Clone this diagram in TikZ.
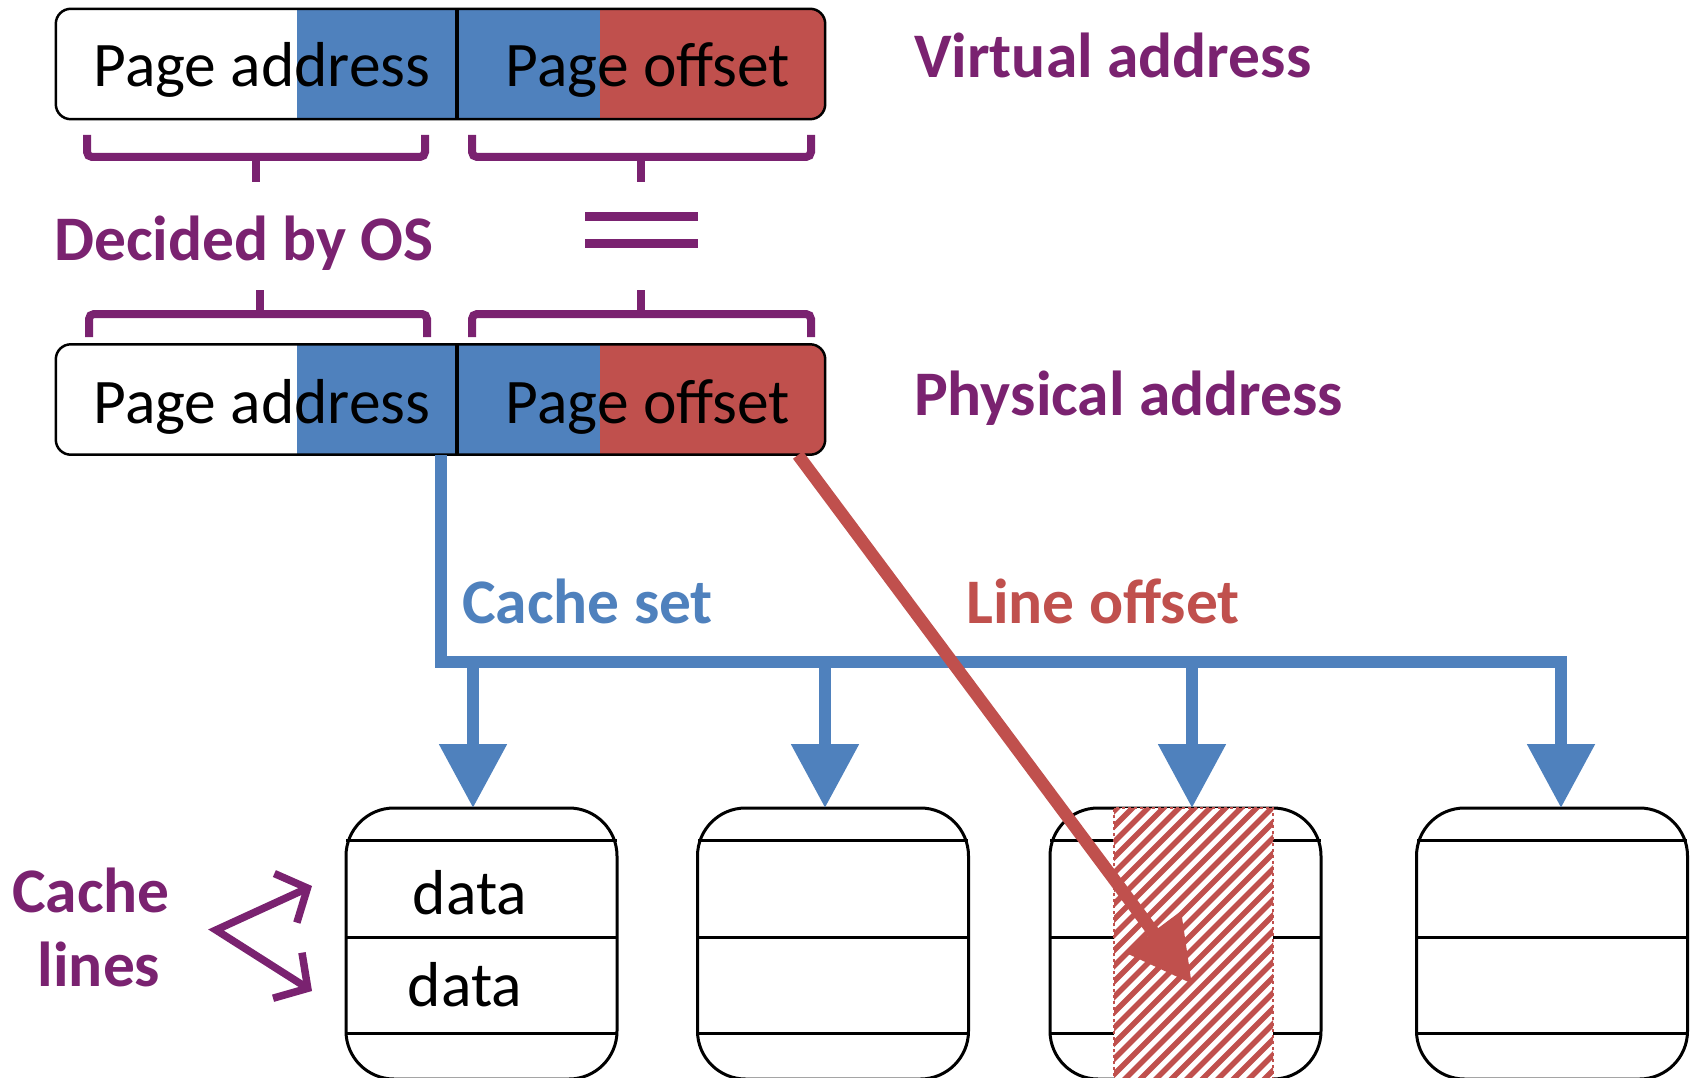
\documentclass[tikz,border=0pt]{standalone}
\usepackage{fontspec}
\setmainfont{Carlito}
\usetikzlibrary{arrows.meta}
\definecolor{blueC}{HTML}{4F81BD}
\definecolor{redC}{HTML}{C0504D}
\definecolor{purpC}{HTML}{7A2270}
\begin{document}
\begin{tikzpicture}[x=1pt,y=-1pt,
  txt/.style={font=\fontsize{63.5}{76}\selectfont, inner sep=0pt},
  lbl/.style={font=\fontsize{63.5}{76}\selectfont\bfseries, inner sep=0pt},
  addrshape/.style={minimum width=769pt, minimum height=110pt, inner sep=0pt},
  addrline/.style={draw=black, line width=2.5pt, rounded corners=15pt},
  cachebox/.style={draw=black, line width=3pt, rounded corners=48pt, minimum width=271pt, minimum height=271pt, inner sep=0pt},
  cline/.style={draw=black, line width=3pt},
  brace/.style={draw=purpC, line width=8pt, rounded corners=5pt},
  bluel/.style={draw=blueC, line width=12pt, line join=miter},
  bluetip/.style={-{Triangle[width=65pt,length=64pt]}},
  redl/.style={draw=redC, line width=12.5pt, -{Triangle[width=66pt,length=65pt]}},
  purparrow/.style={draw=purpC, line width=7.5pt, line join=miter, {Straight Barb[length=24pt,width=54pt]}-{Straight Barb[length=24pt,width=54pt]}}
]
\useasboundingbox (0,0) rectangle (1696,1078);

% ---------- address boxes ----------
\foreach \nm/\yc in {va/64, pa/399.5}{
  \node[addrshape] (\nm) at (440.5,\yc) {};
  \begin{scope}
    \clip[rounded corners=15pt] (\nm.south west) rectangle (\nm.north east);
    \fill[blueC] (297,\yc-60) rectangle (600,\yc+60);
    \fill[redC] (600,\yc-60) rectangle (830,\yc+60);
  \end{scope}
  \draw[addrline] (\nm.south west) rectangle (\nm.north east);
  \draw[line width=4pt] (457,\yc-55) -- (457,\yc+55);
}
\node[txt, anchor=base] (vpa) at (262,87) {Page address};
\node[txt, anchor=base] (vpo) at (648,87) {Page offset};
\node[txt, anchor=base] (ppa) at (262,423) {Page address};
\node[txt, anchor=base] (ppo) at (648,423) {Page offset};

\node[lbl, text=purpC, anchor=base west] (vlab) at (914,78) {Virtual address};
\node[lbl, text=purpC, anchor=base west] (plab) at (914,415) {Physical address};

% ---------- braces ----------
\draw[brace] (87,135) -- (87,157) -- (425,157) -- (425,135);
\draw[brace] (256,157) -- (256,182);
\draw[brace] (472,135) -- (472,157) -- (811,157) -- (811,135);
\draw[brace] (641,157) -- (641,182);
\draw[brace] (89,337) -- (89,314) -- (427,314) -- (427,337);
\draw[brace] (260,314) -- (260,290);
\draw[brace] (472,337) -- (472,314) -- (811,314) -- (811,337);
\draw[brace] (641,314) -- (641,290);

\node[lbl, text=purpC, anchor=base west] (os) at (54,260) {Decided by OS};
\draw[purpC, line width=9pt] (585,216) -- (698,216);
\draw[purpC, line width=9pt] (585,243) -- (698,243);

% ---------- cache boxes ----------
\node[cachebox] (c1) at (481.5,943.5) {};
\node[cachebox] (c2) at (833,943.5) {};
\node[cachebox] (c3) at (1185.5,943.5) {};
\node[cachebox] (c4) at (1552,943.5) {};
\foreach \l/\r in {346/617, 698/968, 1050/1321, 1417/1687}{
  \foreach \yy in {840,937,1033}{
    \draw[cline] (\l,\yy) -- (\r,\yy);
  }
}
\node[txt, anchor=base] (d1) at (470,914) {data};
\node[txt, anchor=base] (d2) at (465,1006) {data};

% hatched region
\begin{scope}
  \fill[white] (1114,808) rectangle (1273,1082);
  \clip (1114,808) rectangle (1273,1082);
  \foreach \i in {-20,...,11}{
    \draw[redC, line width=5.5pt] (1114+\i*15.5,1090) -- ++(300,-300);
  }
\end{scope}
\draw[redC, dashed, line width=2pt] (1114,1082) -- (1114,808) -- (1273,808) -- (1273,1082);

% ---------- connectors ----------
\coordinate (bs) at (441,455);
\coordinate (bc) at (441,662);
\coordinate (br) at (1561,662);
\coordinate (t1) at (473,808);
\coordinate (t2) at (825,808);
\coordinate (t3) at (1192,808);
\coordinate (t4) at (1561,808);
\coordinate (j1) at (473,662);
\coordinate (j2) at (825,662);
\coordinate (j3) at (1192,662);
\draw[bluel, bluetip] (bs) -- (bc) -- (br) -- (t4);
\draw[bluel, bluetip] (j1) -- (t1);
\draw[bluel, bluetip] (j2) -- (t2);
\draw[bluel, bluetip] (j3) -- (t3);

\node[lbl, text=blueC, anchor=base west] (cs) at (462,623) {Cache set};
\node[lbl, text=redC, anchor=base west] (lo) at (966,623) {Line offset};

\coordinate (rs) at (798,455);
\coordinate (rt) at (1192,984);
\draw[redl] (rs) -- (rt);

% ---------- cache lines label ----------
\node[lbl, text=purpC, anchor=base] (cl1) at (91,912) {Cache};
\node[lbl, text=purpC, anchor=base] (cl2) at (99,986) {lines};
\coordinate (pv) at (216,930);
\coordinate (pu) at (312,886);
\coordinate (pl) at (312,991);
\draw[purparrow] (pu) -- (pv) -- (pl);
\end{tikzpicture}
\end{document}
